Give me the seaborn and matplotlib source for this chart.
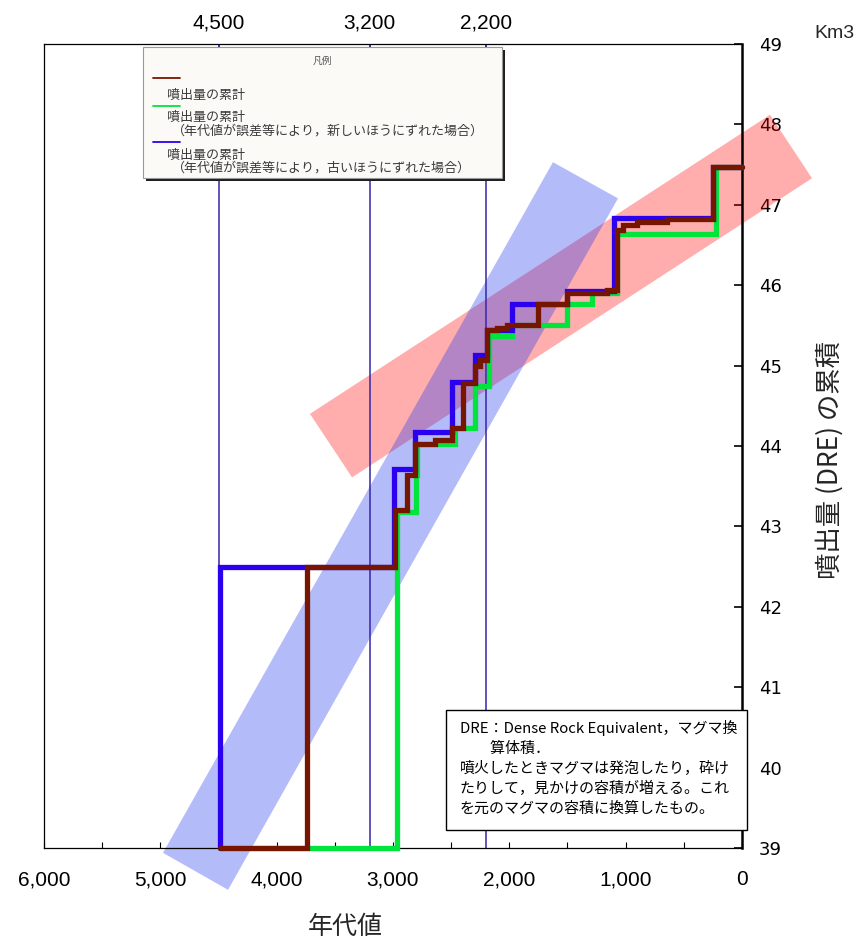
import matplotlib
matplotlib.use("Agg")
import matplotlib.pyplot as plt
import matplotlib.ticker as mticker
from matplotlib.patches import Polygon, Rectangle
from matplotlib.lines import Line2D
import seaborn as sns

# ---------------------------------------------------------------------------
# Cumulative erupted volume (DRE, km3) against age (years before present).
# Each (age, volume) pair gives the level reached at that age.
# ---------------------------------------------------------------------------
age_main = [4487, 3742, 2983, 2882, 2811, 2639, 2495, 2396, 2295, 2252, 2195,
            2109, 2023, 1751, 1507, 1163, 1077, 1023, 905, 647, 247, 0]
vol_main = [39.0, 42.5, 43.2, 43.64, 44.03, 44.07, 44.22, 44.78, 44.99, 45.07,
            45.44, 45.47, 45.50, 45.77, 45.90, 45.94, 46.69, 46.75, 46.78,
            46.82, 47.47, 47.47]

# ages shifted toward the present
age_young = [4487, 2968, 2802, 2790, 2470, 2295, 2175, 1977, 1507, 1292, 1075, 224, 0]
vol_young = [39.0, 43.18, 43.64, 44.02, 44.22, 44.75, 45.37, 45.50, 45.77, 45.90,
             46.64, 47.47, 47.47]

# ages shifted toward the past
age_old = [4487, 4487, 2990, 2811, 2495, 2295, 2195, 1977, 1507, 1100, 247, 0]
vol_old = [39.0, 42.5, 43.72, 44.18, 44.80, 45.13, 45.44, 45.77, 45.93, 46.83,
           47.47, 47.47]

# reference ages (vertical guides, labelled on the top axis)
ref_ages = [4500, 3200, 2200]

# trend bands: corner points (age, volume)
steep_age = [4977, 4418, 1066, 1625]
steep_vol = [38.94, 38.48, 47.08, 47.53]
gentle_age = [3352, -602, -241, 3714]
gentle_vol = [43.61, 47.33, 48.12, 44.40]

x_ticks = [6000, 5000, 4000, 3000, 2000, 1000, 0]
y_ticks = list(range(39, 50))

legend_title = "凡例"
legend_main = "噴出量の累計"
legend_young = ["噴出量の累計", "（年代値が誤差等により，新しいほうにずれた場合）"]
legend_old = ["噴出量の累計", "（年代値が誤差等により，古いほうにずれた場合）"]

note_lines = [
    "DRE：Dense Rock Equivalent，マグマ換",
    "　　算体積．",
    "噴火したときマグマは発泡したり，砕け",
    "たりして，見かけの容積が増える。これ",
    "を元のマグマの容積に換算したもの。",
]

C_MAIN = "#761600"
C_YOUNG = "#00e43c"
C_OLD = "#2a00ee"
C_GUIDE = "#3526a8"

# ---------------------------------------------------------------------------
sns.set_theme(style="white")
plt.rcParams["font.family"] = ["Noto Sans CJK JP", "DejaVu Sans"]

W, H = 862, 942
fig = plt.figure(figsize=(W / 100, H / 100), dpi=100)
fig.patch.set_facecolor("white")


def fx(x):
    return x / W


def fy(y):
    return 1 - y / H


ax = fig.add_axes([fx(44), fy(848), (742 - 44) / W, (848 - 44) / H])
ax.set_facecolor("white")

# trend bands
ax.add_patch(Polygon(list(zip(gentle_age, gentle_vol)), closed=True,
                     facecolor=(1.0, 0.0, 0.0), alpha=0.32, edgecolor="none",
                     clip_on=False, zorder=0.6))
ax.add_patch(Polygon(list(zip(steep_age, steep_vol)), closed=True,
                     facecolor=(40 / 255, 60 / 255, 240 / 255), alpha=0.35,
                     edgecolor="none", clip_on=False, zorder=0.7))

# vertical guides
for a in ref_ages:
    ax.axvline(a, color=C_GUIDE, lw=1.1, zorder=1)

# cumulative step curves
for ages, vols, col in [(age_young, vol_young, C_YOUNG),
                        (age_old, vol_old, C_OLD),
                        (age_main, vol_main, C_MAIN)]:
    sns.lineplot(x=ages, y=vols, ax=ax, sort=False, estimator=None,
                 drawstyle="steps-post", color=col, linewidth=3.8,
                 solid_joinstyle="miter", clip_on=False, zorder=3, legend=False)

ax.set_xlim(6000, 0)
ax.set_ylim(39, 49)
ax.set_xlabel("")
ax.set_ylabel("")

comma = mticker.FuncFormatter(lambda v, p: f"{int(round(v)):,}")
ax.set_xticks(x_ticks)
ax.xaxis.set_major_formatter(comma)
ax.xaxis.set_minor_locator(mticker.MultipleLocator(500))
ax.tick_params(axis="x", which="both", bottom=True, top=False, direction="in",
               length=4, width=0.8, color="black", pad=16, labelsize=15,
               labelcolor="black", labelfontfamily="Liberation Sans")

ax.yaxis.tick_right()
ax.set_yticks(y_ticks)
ax.tick_params(axis="y", which="both", left=False, right=True, labelleft=False,
               labelright=True, direction="in", length=6, width=1.2,
               color="black", pad=12, labelsize=13, labelcolor="black",
               labelfontfamily="DejaVu Sans")

for sp in ax.spines.values():
    sp.set_visible(True)
    sp.set_color("black")
    sp.set_linewidth(0.9)
ax.spines["right"].set_linewidth(1.8)

top = ax.secondary_xaxis("top")
top.set_xticks(ref_ages)
top.xaxis.set_major_formatter(comma)
top.tick_params(axis="x", top=True, direction="in", length=4, width=1.2,
                color=C_GUIDE, pad=8, labelsize=15, labelcolor="black",
                labelfontfamily="Liberation Sans")
top.spines["top"].set_visible(False)

# axis titles
fig.text(fx(834), fy(34), "Km3", ha="center", va="center", fontsize=14,
         family="Liberation Sans")
fig.text(fx(830), fy(460), "噴出量 (DRE) の累積", rotation=90, ha="center",
         va="center", fontsize=19)
fig.text(fx(345), fy(940), "年代値", ha="center", va="bottom", fontsize=18)

# legend panel
fig.add_artist(Rectangle((fx(146), fy(181)), (502 - 143) / W, (178 - 47) / H,
                         transform=fig.transFigure, facecolor="#1e1e1e",
                         edgecolor="none", zorder=5))
fig.add_artist(Rectangle((fx(143), fy(178)), (502 - 143) / W, (178 - 47) / H,
                         transform=fig.transFigure, facecolor="#fcfaf7",
                         edgecolor="#9a9a9a", lw=0.8, zorder=5.1))
leg_kw = dict(fontsize=9.4, color="#3a3a3a", va="center", ha="left", zorder=6)
fig.text(fx(322), fy(61), legend_title, fontsize=7, color="#555555",
         ha="center", va="center", zorder=6)
for ypx, col in [(78, C_MAIN), (106, C_YOUNG), (142, C_OLD)]:
    fig.add_artist(Line2D([fx(153), fx(180)], [fy(ypx), fy(ypx)],
                          transform=fig.transFigure, color=col, lw=1.3,
                          zorder=6))
fig.text(fx(167), fy(95), legend_main, **leg_kw)
fig.text(fx(167), fy(117), legend_young[0], **leg_kw)
fig.text(fx(172), fy(131), legend_young[1], **leg_kw)
fig.text(fx(167), fy(155), legend_old[0], **leg_kw)
fig.text(fx(172), fy(168), legend_old[1], **leg_kw)

# explanatory note
fig.add_artist(Rectangle((fx(446), fy(830)), (747 - 446) / W, (830 - 710) / H,
                         transform=fig.transFigure, facecolor="white",
                         edgecolor="black", lw=1.0, zorder=5))
for i, line in enumerate(note_lines):
    yy = [728, 749, 768, 788, 808][i]
    fig.text(fx(460), fy(yy), line, fontsize=10.8, va="center", ha="left",
             color="black", zorder=6)

fig.savefig("out.png", dpi=100, facecolor="white")
